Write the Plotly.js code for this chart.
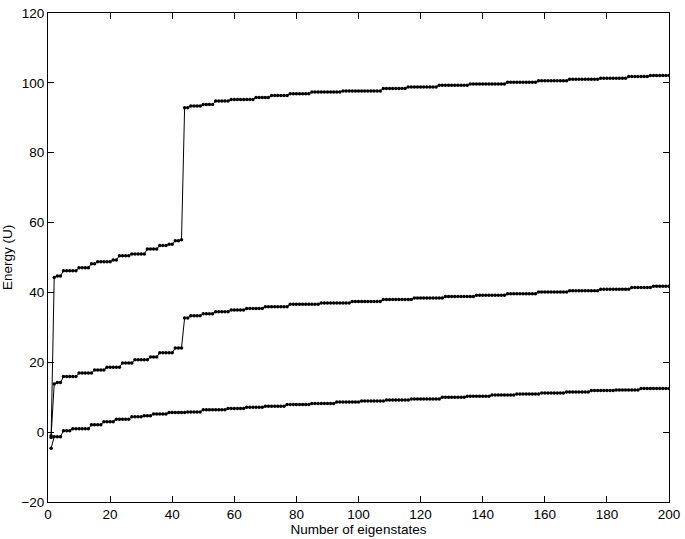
<!DOCTYPE html>
<html>
<head>
<meta charset="utf-8">
<script src="https://cdn.plot.ly/plotly-3.0.1.min.js"></script>
<style>
  html, body { margin: 0; padding: 0; background: #fff; }
  #thePlot { width: 685px; height: 539px; }
</style>
</head>
<body>
<div id="thePlot"></div>
<script>
// Eigenstate index 1..200
const states = [];
for (let i = 1; i <= 200; i++) states.push(i);

// Lowest band
const bandLow = [
  -4.6, -1.3, -1.3, -1.3, 0.4, 0.4, 0.4, 1.0, 1.0, 1.0,
  1.0, 1.0, 1.0, 2.1, 2.1, 2.1, 2.1, 3.0, 3.0, 3.0,
  3.0, 3.7, 3.7, 3.7, 3.7, 3.7, 4.4, 4.4, 4.4, 4.4,
  4.7, 4.7, 4.7, 5.2, 5.2, 5.2, 5.2, 5.2, 5.6, 5.6,
  5.6, 5.6, 5.6, 5.6, 5.8, 5.8, 5.8, 5.8, 5.8, 6.4,
  6.4, 6.4, 6.4, 6.4, 6.4, 6.4, 6.4, 6.8, 6.8, 6.8,
  6.8, 6.8, 6.8, 7.1, 7.1, 7.1, 7.1, 7.1, 7.1, 7.4,
  7.4, 7.4, 7.4, 7.4, 7.4, 7.4, 7.9, 7.9, 7.9, 7.9,
  7.9, 7.9, 7.9, 7.9, 8.2, 8.2, 8.2, 8.2, 8.2, 8.2,
  8.2, 8.2, 8.6, 8.6, 8.6, 8.6, 8.6, 8.6, 8.6, 8.6,
  8.9, 8.9, 8.9, 8.9, 8.9, 8.9, 8.9, 8.9, 9.2, 9.2,
  9.2, 9.2, 9.2, 9.2, 9.2, 9.2, 9.5, 9.5, 9.5, 9.5,
  9.5, 9.5, 9.5, 9.5, 9.5, 9.5, 10.0, 10.0, 10.0, 10.0,
  10.0, 10.0, 10.0, 10.0, 10.3, 10.3, 10.3, 10.3, 10.3, 10.3,
  10.3, 10.3, 10.6, 10.6, 10.6, 10.6, 10.6, 10.6, 10.6, 10.6,
  10.9, 10.9, 10.9, 10.9, 10.9, 10.9, 10.9, 10.9, 11.2, 11.2,
  11.2, 11.2, 11.2, 11.2, 11.2, 11.2, 11.5, 11.5, 11.5, 11.5,
  11.5, 11.5, 11.5, 11.5, 11.9, 11.9, 11.9, 11.9, 11.9, 11.9,
  11.9, 11.9, 12.1, 12.1, 12.1, 12.1, 12.1, 12.1, 12.1, 12.1,
  12.5, 12.5, 12.5, 12.5, 12.5, 12.5, 12.5, 12.5, 12.5, 12.5
];

// Middle band
const bandMid = [
  -1.0, 13.8, 14.2, 14.2, 15.9, 15.9, 15.9, 15.9, 15.9, 16.9,
  16.9, 16.9, 16.9, 16.9, 17.8, 17.8, 17.8, 17.8, 18.6, 18.6,
  18.6, 18.6, 18.6, 19.8, 19.8, 19.8, 19.8, 20.7, 20.7, 20.7,
  20.7, 20.7, 21.5, 21.5, 21.5, 22.7, 22.7, 22.7, 22.7, 22.7,
  24.1, 24.1, 24.1, 32.7, 32.7, 33.3, 33.3, 33.3, 33.3, 33.9,
  33.9, 33.9, 33.9, 34.5, 34.5, 34.5, 34.5, 34.5, 35.0, 35.0,
  35.0, 35.0, 35.0, 35.4, 35.4, 35.4, 35.4, 35.4, 35.4, 35.9,
  35.9, 35.9, 35.9, 35.9, 35.9, 35.9, 35.9, 36.6, 36.6, 36.6,
  36.6, 36.6, 36.6, 36.6, 36.6, 36.6, 36.6, 37.0, 37.0, 37.0,
  37.0, 37.0, 37.0, 37.0, 37.0, 37.0, 37.0, 37.4, 37.4, 37.4,
  37.4, 37.4, 37.4, 37.4, 37.4, 37.4, 37.4, 38.0, 38.0, 38.0,
  38.0, 38.0, 38.0, 38.0, 38.0, 38.0, 38.0, 38.4, 38.4, 38.4,
  38.4, 38.4, 38.4, 38.4, 38.4, 38.4, 38.4, 38.8, 38.8, 38.8,
  38.8, 38.8, 38.8, 38.8, 38.8, 38.8, 38.8, 39.2, 39.2, 39.2,
  39.2, 39.2, 39.2, 39.2, 39.2, 39.2, 39.2, 39.6, 39.6, 39.6,
  39.6, 39.6, 39.6, 39.6, 39.6, 39.6, 39.6, 40.1, 40.1, 40.1,
  40.1, 40.1, 40.1, 40.1, 40.1, 40.1, 40.1, 40.5, 40.5, 40.5,
  40.5, 40.5, 40.5, 40.5, 40.5, 40.5, 40.5, 40.9, 40.9, 40.9,
  40.9, 40.9, 40.9, 40.9, 40.9, 40.9, 40.9, 41.4, 41.4, 41.4,
  41.4, 41.4, 41.4, 41.4, 41.8, 41.8, 41.8, 41.8, 41.8, 41.8
];

// Highest band
const bandHigh = [
  -1.5, 44.3, 44.7, 44.7, 46.2, 46.2, 46.2, 46.2, 46.2, 47.1,
  47.1, 47.1, 47.1, 48.2, 48.2, 48.8, 48.8, 48.8, 48.8, 48.8,
  49.3, 49.3, 50.5, 50.5, 50.5, 50.5, 51.0, 51.0, 51.0, 51.0,
  51.0, 52.4, 52.4, 52.4, 52.4, 53.4, 53.4, 53.4, 53.8, 53.8,
  54.8, 54.8, 55.1, 92.9, 92.9, 93.4, 93.4, 93.4, 93.4, 93.8,
  93.8, 93.8, 93.8, 94.8, 94.8, 94.8, 94.8, 94.8, 95.2, 95.2,
  95.2, 95.2, 95.2, 95.2, 95.2, 95.2, 95.8, 95.8, 95.8, 95.8,
  95.8, 96.4, 96.4, 96.4, 96.4, 96.4, 96.4, 96.9, 96.9, 96.9,
  96.9, 96.9, 96.9, 96.9, 97.4, 97.4, 97.4, 97.4, 97.4, 97.4,
  97.4, 97.4, 97.4, 97.4, 97.7, 97.7, 97.7, 97.7, 97.7, 97.7,
  97.7, 97.7, 97.7, 97.7, 97.7, 97.7, 97.7, 98.4, 98.4, 98.4,
  98.4, 98.4, 98.4, 98.4, 98.4, 98.8, 98.8, 98.8, 98.8, 98.8,
  98.8, 98.8, 98.8, 98.8, 98.8, 99.3, 99.3, 99.3, 99.3, 99.3,
  99.3, 99.3, 99.3, 99.3, 99.3, 99.7, 99.7, 99.7, 99.7, 99.7,
  99.7, 99.7, 99.7, 99.7, 99.7, 99.7, 99.7, 100.2, 100.2, 100.2,
  100.2, 100.2, 100.2, 100.2, 100.2, 100.2, 100.2, 100.6, 100.6, 100.6,
  100.6, 100.6, 100.6, 100.6, 100.6, 100.6, 100.6, 101.0, 101.0, 101.0,
  101.0, 101.0, 101.0, 101.0, 101.0, 101.0, 101.0, 101.3, 101.3, 101.3,
  101.3, 101.3, 101.3, 101.3, 101.3, 101.3, 101.8, 101.8, 101.8, 101.8,
  101.8, 101.8, 101.8, 102.1, 102.1, 102.1, 102.1, 102.1, 102.1, 102.1
];

const font = { family: "Liberation Sans, Arial, Helvetica, sans-serif", size: 13.5, color: "#000" };

function band(values) {
    return {
        x: states,
        y: values,
        type: "scatter",
        mode: "lines+markers",
        line: { color: "#000", width: 1 },
        marker: { color: "#000", size: 3.5 },
        showlegend: false,
        hoverinfo: "skip"
    };
}

const axisStyle = {
    showline: true,
    mirror: "ticks",
    linecolor: "#000",
    linewidth: 1,
    ticks: "inside",
    ticklen: 6,
    tickcolor: "#000",
    showgrid: false,
    zeroline: false,
    tickfont: font
};

const layout = {
    width: 685,
    height: 539,
    margin: { l: 48, r: 16, t: 13, b: 37 },
    paper_bgcolor: "#fff",
    plot_bgcolor: "#fff",
    font: font,
    xaxis: Object.assign({}, axisStyle, {
        range: [0, 200],
        tickvals: [0, 20, 40, 60, 80, 100, 120, 140, 160, 180, 200],
        title: { text: "Number of eigenstates", font: font, standoff: 2 }
    }),
    yaxis: Object.assign({}, axisStyle, {
        range: [-20, 120],
        tickvals: [-20, 0, 20, 40, 60, 80, 100, 120],
        ticktext: ["\u221220", "0", "20", "40", "60", "80", "100", "120"],
        title: { text: "Energy (U)", font: font, standoff: 6 }
    })
};

Plotly.newPlot("thePlot", [band(bandLow), band(bandMid), band(bandHigh)], layout, { staticPlot: true });
</script>
</body>
</html>
